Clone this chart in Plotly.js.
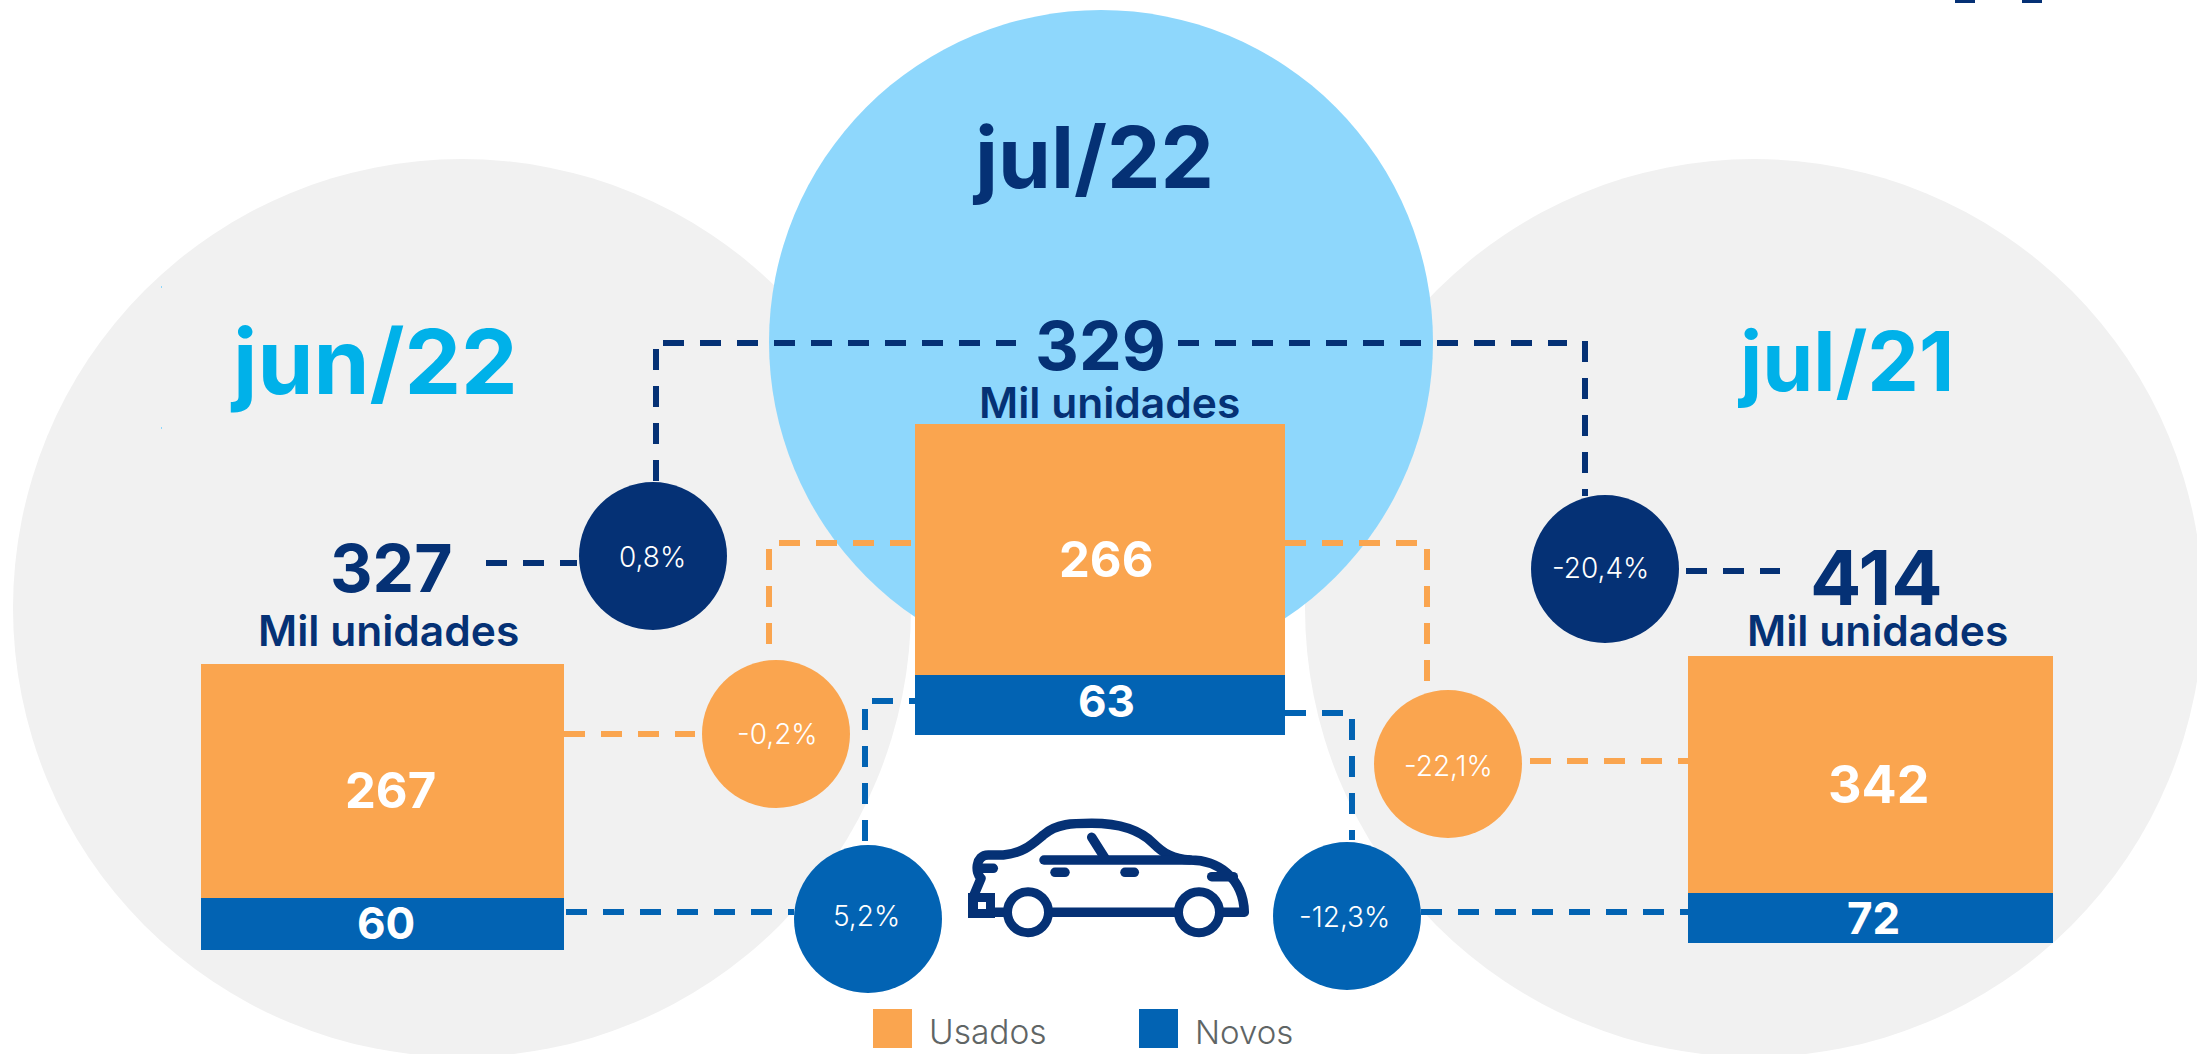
<!DOCTYPE html>
<html><head><meta charset="utf-8">
<script src="https://cdn.plot.ly/plotly-3.0.1.min.js"></script>
<style>html,body{margin:0;padding:0;background:#fff;overflow:hidden}#c{width:2197px;height:1054px}
.shapelayer path[style*="stroke-width: 9.5px"]{stroke-linecap:round;stroke-linejoin:round}</style>
</head><body><div id="c"></div>
<script>
// ---- data ----
const periods = ['jun/22', 'jul/22', 'jul/21'];
const usados = [267, 266, 342];
const novos = [60, 63, 72];
const totals = [327, 329, 414];
const unitLabel = 'Mil unidades';
const seriesNames = ['Usados', 'Novos'];
const changeLabels = ['0,8%', '-0,2%', '5,2%', '-20,4%', '-22,1%', '-12,3%'];

// ---- styling and layout (page pixels) ----
const W = 2197, H = 1054, FONT = 'Inter, "Noto Sans", sans-serif';
const NAVY = '#053175', BLUE = '#0263B3', ORANGE = '#FAA54F', SKY = '#8ED7FC', GREY = '#F1F1F1', CYAN = '#00B1E9';
const bubbleX = [653, 776, 868, 1605, 1448, 1347];
const bubbleY = [556, 734, 919, 569, 764, 916];
const bubbleColor = [NAVY, ORANGE, BLUE, NAVY, ORANGE, BLUE];
const bubbleTextX = [652, 777, 866, 1600, 1448, 1344];
const bubbleTextY = [557, 734, 916, 568, 766, 917];
const bars = [
  {l: 201, r: 564, t: 664, b: 950},
  {l: 915, r: 1285, t: 424, b: 735},
  {l: 1688, r: 2053, t: 656, b: 943}
];

function circle(cx, cy, r, fill) {
  return {type: 'circle', xref: 'x', yref: 'y', layer: 'below', x0: cx - r, x1: cx + r, y0: cy - r, y1: cy + r,
    fillcolor: fill, line: {width: 0}};
}
function rect(x0, y0, x1, y1, fill, layer) {
  return {type: 'rect', xref: 'x', yref: 'y', layer: layer || 'below', x0, x1, y0, y1, fillcolor: fill, line: {width: 0}};
}
function dash(x0, y0, x1, y1, color) {
  return {type: 'line', xref: 'x', yref: 'y', layer: 'below', x0, y0, x1, y1,
    line: {color, width: 6, dash: '21px,16px'}};
}
const connectors = [
  [663, 343, 1016, 343, NAVY], [1178, 343, 1567, 343, NAVY], [656, 349, 656, 482, NAVY], [1585, 341, 1585, 496, NAVY],
  [486, 563, 577, 563, NAVY], [1686, 571, 1780, 571, NAVY],
  [779, 543, 915, 543, ORANGE], [1285, 543, 1427, 543, ORANGE], [769, 549, 769, 660, ORANGE], [1427, 549, 1427, 692, ORANGE],
  [564, 734, 695, 734, ORANGE], [1530, 761, 1688, 761, ORANGE],
  [872, 701, 915, 701, BLUE], [1285, 713, 1352, 713, BLUE], [865, 709, 865, 843, BLUE], [1352, 719, 1352, 840, BLUE],
  [566, 912, 794, 912, BLUE], [1421, 912, 1688, 912, BLUE]
];

// car icon, outlined in 3x units then mapped onto the page
const carPaths = [
  'M222 345 L243 295 C225 280 225 225 265 225 L310 225 C370 220 400 190 430 165 C470 130 520 130 575 130 C660 130 720 150 760 190 C790 220 820 238 870 240 C950 240 1030 290 1033 397 L960 397',
  'M460 397 L825 397', 'M285 397 L310 397', 'M432 240 L870 240', 'M575 172 L615 235',
  'M465 277 L495 277', 'M675 277 L703 277', 'M240 265 L280 265', 'M935 290 L1000 290'
];
function mapPath(p) {
  let i = 0;
  return p.replace(/\d+/g, n => (i++ % 2 === 0 ? (+n / 3 + 900) : (+n / 3 + 780)).toFixed(1));
}
const carShapes = carPaths.map(p => ({type: 'path', xref: 'x', yref: 'y', layer: 'below', path: mapPath(p),
  line: {color: NAVY, width: 9.5}, fillcolor: 'rgba(0,0,0,0)'}));
[[1028, 912.3], [1199, 912.3]].forEach(c => {
  const cx = c[0], cy = c[1];
  carShapes.push({type: 'circle', xref: 'x', yref: 'y', layer: 'below', x0: cx - 20.5, x1: cx + 20.5, y0: cy - 20.5, y1: cy + 20.5,
    fillcolor: '#fff', line: {color: NAVY, width: 9}});
});
carShapes.push(rect(968, 893, 995, 918, NAVY));
carShapes.push(rect(978, 902, 986, 909, '#fff'));

const shapes = [
  circle(462, 608, 449, GREY),
  circle(1754, 608, 449, GREY),
  circle(1101, 342, 332, SKY),
  ...connectors.map(c => dash(c[0], c[1], c[2], c[3], c[4])),
  ...carShapes,
  rect(873, 1009, 912, 1048, ORANGE),
  rect(1139, 1009, 1178, 1048, BLUE),
  rect(1955, 0, 1975, 3, NAVY),
  rect(2022, 0, 2042, 3, NAVY),
  rect(161, 286, 162, 288, SKY),
  rect(161, 427, 162, 429, SKY)
];

function note(x, y, text, size, color, weight, xanchor) {
  return {xref: 'x', yref: 'y', x, y, text, showarrow: false, xanchor: xanchor || 'center', yanchor: 'middle',
    font: {family: FONT, size, color, weight: weight || 400}};
}
const titlePos = [[374, 361, 90, CYAN], [1093, 157, 85, NAVY], [1845, 361, 82, CYAN]];
const totalPos = [[391, 568, 66], [1100, 345, 68], [1876, 577, 76]];
const unitPos = [[388, 630], [1109, 402], [1877, 630]];
const usadosSize = [49, 49, 52];
const usadosShift = [[8, -10], [6, -10], [8, -10]];
const novosShift = [[3, 1], [6, 4], [3, 0]];

const annotations = [];
periods.forEach((p, i) => {
  annotations.push(note(titlePos[i][0], titlePos[i][1], p, titlePos[i][2], titlePos[i][3], 700));
  annotations.push(note(totalPos[i][0], totalPos[i][1], String(totals[i]), totalPos[i][2], NAVY, 700));
  annotations.push(note(unitPos[i][0], unitPos[i][1], unitLabel, 42.5, NAVY, 600));
  const xr = 'x' + (i + 2), yr = 'y' + (i + 2);
  annotations.push({xref: xr, yref: yr, x: p, y: novos[i] + usados[i] / 2, text: String(usados[i]), showarrow: false,
    xshift: usadosShift[i][0], yshift: usadosShift[i][1], font: {family: FONT, size: usadosSize[i], color: '#fff', weight: 700}});
  annotations.push({xref: xr, yref: yr, x: p, y: novos[i] / 2, text: String(novos[i]), showarrow: false,
    xshift: novosShift[i][0], yshift: novosShift[i][1], font: {family: FONT, size: 44, color: '#fff', weight: 700}});
});
changeLabels.forEach((t, i) => annotations.push(note(bubbleTextX[i], bubbleTextY[i], t, 28, '#fff', 300)));
annotations.push(note(927, 1032, seriesNames[0], 33.5, '#5F6565', 300, 'left'));
annotations.push(note(1193, 1032, seriesNames[1], 33, '#5F6565', 300, 'left'));

const traces = [{
  type: 'scatter', mode: 'markers', xaxis: 'x', yaxis: 'y', x: bubbleX, y: bubbleY, showlegend: false,
  marker: {size: 148, color: bubbleColor, line: {width: 0}}, hoverinfo: 'skip', cliponaxis: false
}];
const layout = {
  width: W, height: H, margin: {l: 0, r: 0, t: 0, b: 0}, paper_bgcolor: '#fff', plot_bgcolor: 'rgba(0,0,0,0)',
  showlegend: false, barmode: 'stack', bargap: 0,
  xaxis: {domain: [0, 1], range: [0, W], visible: false, fixedrange: true},
  yaxis: {domain: [0, 1], range: [H, 0], visible: false, fixedrange: true},
  shapes, annotations
};
periods.forEach((p, i) => {
  const n = i + 2, b = bars[i];
  traces.push({type: 'bar', name: seriesNames[1], x: [p], y: [novos[i]], xaxis: 'x' + n, yaxis: 'y' + n,
    marker: {color: BLUE, line: {width: 0}}, hoverinfo: 'name+y'});
  traces.push({type: 'bar', name: seriesNames[0], x: [p], y: [usados[i]], xaxis: 'x' + n, yaxis: 'y' + n,
    marker: {color: ORANGE, line: {width: 0}}, hoverinfo: 'name+y'});
  layout['xaxis' + n] = {domain: [b.l / W, b.r / W], anchor: 'y' + n, type: 'category', visible: false, fixedrange: true};
  layout['yaxis' + n] = {domain: [1 - b.b / H, 1 - b.t / H], anchor: 'x' + n, range: [0, novos[i] + usados[i]], visible: false, fixedrange: true};
});
Plotly.newPlot('c', traces, layout, {displayModeBar: false, staticPlot: true});
</script></body></html>
